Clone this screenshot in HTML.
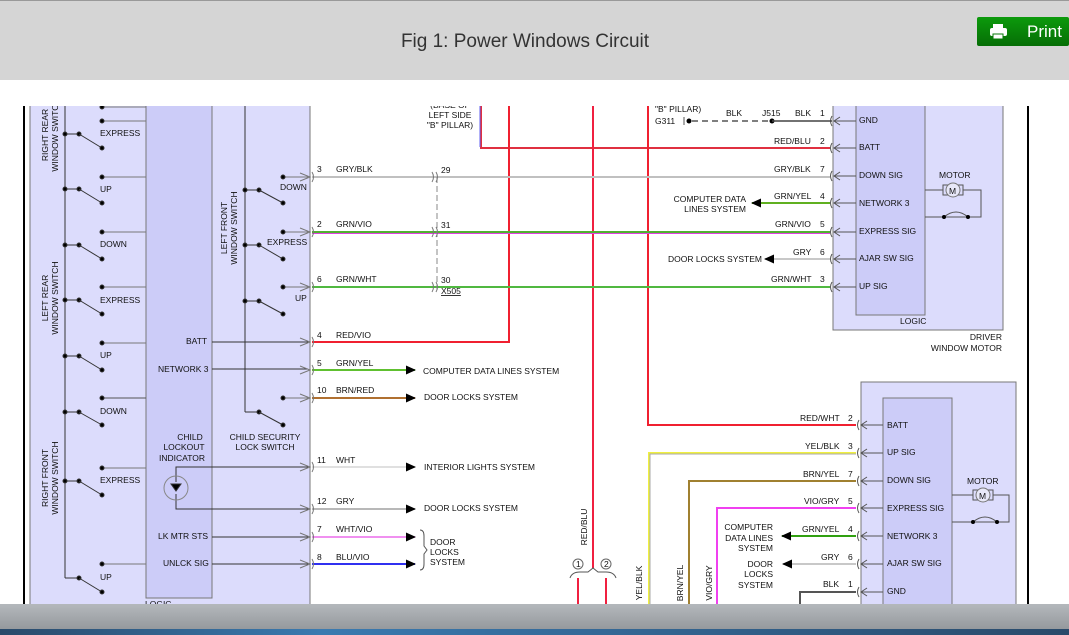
<!DOCTYPE html>
<html><head><meta charset="utf-8"><style>
html,body{margin:0;padding:0;width:1069px;height:635px;overflow:hidden;background:#fff;font-family:"Liberation Sans",sans-serif}
#hdr{position:absolute;left:0;top:0;width:1069px;height:80px;background:#d5d5d5;border-top:1px solid #999;box-sizing:border-box}
#title{position:absolute;left:0;width:1050px;top:30px;text-align:center;font-size:19px;color:#333}
#print{position:absolute;left:977px;top:16px;width:92px;height:29px;background:linear-gradient(#0c9a0c,#066e06);border-radius:2px;color:#fff;font-size:17px}
#task{position:absolute;left:0;top:604px;width:1069px;height:31px;background:linear-gradient(#b4b8bc,#8e9296)}
#task2{position:absolute;left:0;top:629px;width:1069px;height:6px;background:linear-gradient(90deg,#2a4a6a,#3a7ab0 30%,#2a4a6a)}
svg text{font-family:"Liberation Sans",sans-serif;font-size:8.5px;fill:#111}
</style></head><body>
<div id="hdr"><div id="title">Fig 1: Power Windows Circuit</div>
<div id="print"><svg width="30" height="29" style="position:absolute;left:10px;top:0"><rect x="6" y="7" width="10" height="5" fill="#fff"/><rect x="3" y="11" width="17" height="8" rx="2" fill="#fff"/><rect x="6" y="17" width="10" height="5" fill="#fff" stroke="#0a7a0a"/></svg><span style="position:absolute;left:50px;top:5px">Print</span></div></div>
<svg style="position:absolute;left:0;top:0" width="1069" height="635">
<defs><marker id="a" markerUnits="userSpaceOnUse" markerWidth="10" markerHeight="10" refX="9" refY="5" orient="auto"><path d="M0,0.5L10,5L0,9.5z" fill="#000"/></marker>
<clipPath id="c"><rect x="0" y="106" width="1069" height="500"/></clipPath></defs>
<g clip-path="url(#c)">
<line x1="24" y1="106" x2="24" y2="605" stroke="#000" stroke-width="2"/>
<line x1="1028" y1="106" x2="1028" y2="605" stroke="#000" stroke-width="2"/>
<rect x="30" y="100" width="280" height="510" fill="#dcdcfc" stroke="#777"/>
<rect x="146" y="100" width="66" height="498" fill="#ccccf8" stroke="#777"/>
<text x="145" y="607">LOGIC</text>
<g stroke="#333" fill="none">
<line x1="65" y1="106" x2="65" y2="578"/><line x1="65" y1="578" x2="79" y2="578"/>
<line x1="245" y1="106" x2="245" y2="412"/>
</g>
<g stroke="#333" fill="#000">
<line x1="102" y1="107" x2="146" y2="107" stroke="#777"/><circle cx="102" cy="107" r="2"/>
<line x1="102" y1="121" x2="146" y2="121" stroke="#777"/><circle cx="102" cy="121" r="2"/>
<line x1="65" y1="134" x2="79" y2="134"/><circle cx="65" cy="134" r="2"/><circle cx="79" cy="134" r="2"/><line x1="79" y1="134" x2="102" y2="148"/><circle cx="102" cy="148" r="2"/>
<line x1="102" y1="177" x2="146" y2="177" stroke="#777"/><circle cx="102" cy="177" r="2"/>
<line x1="65" y1="189" x2="79" y2="189"/><circle cx="65" cy="189" r="2"/><circle cx="79" cy="189" r="2"/><line x1="79" y1="189" x2="102" y2="203"/><circle cx="102" cy="203" r="2"/>
<line x1="102" y1="232" x2="146" y2="232" stroke="#777"/><circle cx="102" cy="232" r="2"/>
<line x1="65" y1="245" x2="79" y2="245"/><circle cx="65" cy="245" r="2"/><circle cx="79" cy="245" r="2"/><line x1="79" y1="245" x2="102" y2="259"/><circle cx="102" cy="259" r="2"/>
<line x1="102" y1="287" x2="146" y2="287" stroke="#777"/><circle cx="102" cy="287" r="2"/>
<line x1="65" y1="300" x2="79" y2="300"/><circle cx="65" cy="300" r="2"/><circle cx="79" cy="300" r="2"/><line x1="79" y1="300" x2="102" y2="314"/><circle cx="102" cy="314" r="2"/>
<line x1="102" y1="343" x2="146" y2="343" stroke="#777"/><circle cx="102" cy="343" r="2"/>
<line x1="65" y1="356" x2="79" y2="356"/><circle cx="65" cy="356" r="2"/><circle cx="79" cy="356" r="2"/><line x1="79" y1="356" x2="102" y2="370"/><circle cx="102" cy="370" r="2"/>
<line x1="102" y1="398" x2="146" y2="398" stroke="#555"/><circle cx="102" cy="398" r="2"/>
<line x1="65" y1="412" x2="79" y2="412"/><circle cx="65" cy="412" r="2"/><circle cx="79" cy="412" r="2"/><line x1="79" y1="412" x2="102" y2="425"/><circle cx="102" cy="425" r="2"/>
<line x1="102" y1="468" x2="146" y2="468" stroke="#777"/><circle cx="102" cy="468" r="2"/>
<line x1="65" y1="481" x2="79" y2="481"/><circle cx="65" cy="481" r="2"/><circle cx="79" cy="481" r="2"/><line x1="79" y1="481" x2="102" y2="495"/><circle cx="102" cy="495" r="2"/>
<line x1="102" y1="564" x2="146" y2="564" stroke="#777"/><circle cx="102" cy="564" r="2"/>
<circle cx="79" cy="578" r="2"/><line x1="79" y1="578" x2="102" y2="592"/><circle cx="102" cy="592" r="2"/>
<line x1="283" y1="177" x2="308" y2="177" stroke="#777"/><circle cx="283" cy="177" r="2"/>
<line x1="245" y1="190" x2="259" y2="190"/><circle cx="245" cy="190" r="2"/><circle cx="259" cy="190" r="2"/><line x1="259" y1="190" x2="283" y2="203"/><circle cx="283" cy="203" r="2"/>
<line x1="283" y1="232" x2="308" y2="232" stroke="#777"/><circle cx="283" cy="232" r="2"/>
<line x1="245" y1="245" x2="259" y2="245"/><circle cx="245" cy="245" r="2"/><circle cx="259" cy="245" r="2"/><line x1="259" y1="245" x2="283" y2="259"/><circle cx="283" cy="259" r="2"/>
<line x1="283" y1="287" x2="308" y2="287" stroke="#777"/><circle cx="283" cy="287" r="2"/>
<line x1="245" y1="301" x2="259" y2="301"/><circle cx="245" cy="301" r="2"/><circle cx="259" cy="301" r="2"/><line x1="259" y1="301" x2="283" y2="314"/><circle cx="283" cy="314" r="2"/>
<line x1="283" y1="398" x2="308" y2="398" stroke="#777"/><circle cx="283" cy="398" r="2"/>
<line x1="245" y1="412" x2="259" y2="412"/><circle cx="259" cy="412" r="2"/><line x1="259" y1="412" x2="283" y2="425"/><circle cx="283" cy="425" r="2"/>
<line x1="212" y1="342" x2="308" y2="342"/><line x1="212" y1="369" x2="308" y2="369"/>
<line x1="212" y1="537" x2="308" y2="537"/><line x1="212" y1="564" x2="308" y2="564"/>
<polyline points="176,482 176,467 308,467" fill="none"/><polyline points="176,494 176,509 308,509" fill="none"/>
<circle cx="176" cy="488" r="12" fill="none" stroke="#888"/><path d="M171,484h10l-5,7z"/>
</g>
<g>
<text x="100" y="136">EXPRESS</text><text x="100" y="192">UP</text><text x="100" y="247">DOWN</text><text x="100" y="303">EXPRESS</text><text x="100" y="358">UP</text><text x="100" y="414">DOWN</text><text x="100" y="483">EXPRESS</text><text x="100" y="580">UP</text>
<text x="280" y="190">DOWN</text><text x="267" y="245">EXPRESS</text><text x="295" y="301">UP</text>
<text x="186" y="344">BATT</text><text x="158" y="372">NETWORK 3</text>
<text x="190" y="440" text-anchor="middle">CHILD</text><text x="184" y="450" text-anchor="middle">LOCKOUT</text><text x="182" y="461" text-anchor="middle">INDICATOR</text>
<text x="265" y="440" text-anchor="middle">CHILD SECURITY</text><text x="265" y="450" text-anchor="middle">LOCK SWITCH</text>
<text x="158" y="539">LK MTR STS</text><text x="163" y="566">UNLCK SIG</text>
<text transform="translate(48,135) rotate(-90)" text-anchor="middle">RIGHT REAR</text><text transform="translate(58,135) rotate(-90)" text-anchor="middle">WINDOW SWITCH</text>
<text transform="translate(48,298) rotate(-90)" text-anchor="middle">LEFT REAR</text><text transform="translate(58,298) rotate(-90)" text-anchor="middle">WINDOW SWITCH</text>
<text transform="translate(48,478) rotate(-90)" text-anchor="middle">RIGHT FRONT</text><text transform="translate(58,478) rotate(-90)" text-anchor="middle">WINDOW SWITCH</text>
<text transform="translate(227,228) rotate(-90)" text-anchor="middle">LEFT FRONT</text><text transform="translate(237,228) rotate(-90)" text-anchor="middle">WINDOW SWITCH</text>
</g>
<g fill="none" stroke-width="2">
<polyline points="481,106 481,148 830,148" stroke="#e03040"/><line x1="480" y1="106" x2="480" y2="147" stroke="#6060f0" stroke-width="1"/>
<polyline points="312,342 509,342 509,106" stroke="#f02030"/>
<line x1="593" y1="106" x2="593" y2="568" stroke="#f02040"/>
<polyline points="648,106 648,425 856,425" stroke="#f02030"/>
<line x1="312" y1="177" x2="830" y2="177" stroke="#c0c0c0"/>
<line x1="312" y1="232" x2="830" y2="232" stroke="#50b030"/><line x1="312" y1="233.5" x2="830" y2="233.5" stroke="#e040e0" stroke-width="1"/>
<line x1="312" y1="287" x2="830" y2="287" stroke="#50b840"/>
<line x1="312" y1="370" x2="415" y2="370" stroke="#60c030" marker-end="url(#a)"/>
<line x1="312" y1="398" x2="415" y2="398" stroke="#b07030" marker-end="url(#a)"/>
<line x1="312" y1="467" x2="415" y2="467" stroke="#e0e0e0" marker-end="url(#a)"/>
<line x1="312" y1="509" x2="415" y2="509" stroke="#b8b8b8" marker-end="url(#a)"/>
<line x1="312" y1="537" x2="415" y2="537" stroke="#f090f0" marker-end="url(#a)"/>
<line x1="312" y1="564" x2="415" y2="564" stroke="#3030f0" marker-end="url(#a)"/>
<line x1="830" y1="203" x2="752" y2="203" stroke="#60b020" marker-end="url(#a)"/>
<line x1="830" y1="259" x2="765" y2="259" stroke="#c8c8c8" marker-end="url(#a)"/>
<line x1="578" y1="578" x2="578" y2="605" stroke="#f02040"/><line x1="606" y1="578" x2="606" y2="605" stroke="#f02040"/>
<polyline points="649,605 649,453 856,453" stroke="#f0f040"/><polyline points="650,605 650,454 856,454" stroke="#aaa" stroke-width="1"/>
<polyline points="689,605 689,481 856,481" stroke="#a08030"/>
<polyline points="717,605 717,508 856,508" stroke="#f040f0"/>
<line x1="856" y1="536" x2="782" y2="536" stroke="#30a010" marker-end="url(#a)"/>
<line x1="856" y1="564" x2="783" y2="564" stroke="#c8c8c8" marker-end="url(#a)"/>
<polyline points="800,605 800,592 856,592" stroke="#555"/>
</g>
<line x1="437" y1="177" x2="437" y2="290" stroke="#888" stroke-dasharray="6,3"/>
<path d="M420,530q4,0 4,6v10l3,4l-3,4v10q0,6-4,6" fill="none" stroke="#555"/>
<path d="M570,578q2,-6 10,-6h8l5,-4l5,4h8q8,0 10,6" fill="none" stroke="#555"/>
<circle cx="578" cy="564" r="5" fill="#fff" stroke="#666"/><circle cx="606" cy="564" r="5" fill="#fff" stroke="#666"/>
<text x="576" y="567" font-size="7">1</text><text x="604" y="567" font-size="7">2</text>
<g fill="none" stroke="#777">
<path d="M300,173l10,4l-10,4M312,172q3,5 0,10"/><path d="M300,228l10,4l-10,4M312,227q3,5 0,10"/><path d="M300,283l10,4l-10,4M312,282q3,5 0,10"/>
<path d="M300,338l10,4l-10,4M312,337q3,5 0,10"/><path d="M300,366l10,4l-10,4M312,365q3,5 0,10"/><path d="M300,394l10,4l-10,4M312,393q3,5 0,10"/>
<path d="M300,463l10,4l-10,4M312,462q3,5 0,10"/><path d="M300,505l10,4l-10,4M312,504q3,5 0,10"/><path d="M300,533l10,4l-10,4M312,532q3,5 0,10"/><path d="M300,560l10,4l-10,4M312,559q3,5 0,10"/>
<path d="M432,172q3,5 0,10M436,172q3,5 0,10M432,227q3,5 0,10M436,227q3,5 0,10M432,282q3,5 0,10M436,282q3,5 0,10"/>
</g>
<rect x="833" y="100" width="170" height="230" fill="#dcdcfc" stroke="#777"/>
<rect x="856" y="100" width="69" height="215" fill="#ccccf8" stroke="#777"/>
<rect x="861" y="382" width="155" height="230" fill="#dcdcfc" stroke="#777"/>
<rect x="883" y="398" width="69" height="214" fill="#ccccf8" stroke="#777"/>
<g fill="none" stroke="#555">
<path d="M832,116q-3,5 0,10M840,117l-6,4l6,4M834,121h22"/>
<path d="M832,143q-3,5 0,10M840,144l-6,4l6,4M834,148h22"/>
<path d="M832,171q-3,5 0,10M840,172l-6,4l6,4M834,176h22"/>
<path d="M832,198q-3,5 0,10M840,199l-6,4l6,4M834,203h22"/>
<path d="M832,227q-3,5 0,10M840,228l-6,4l6,4M834,232h22"/>
<path d="M832,254q-3,5 0,10M840,255l-6,4l6,4M834,259h22"/>
<path d="M832,282q-3,5 0,10M840,283l-6,4l6,4M834,287h22"/>
<path d="M859,420q-3,5 0,10M867,421l-6,4l6,4M861,425h22"/>
<path d="M859,448q-3,5 0,10M867,449l-6,4l6,4M861,453h22"/>
<path d="M859,476q-3,5 0,10M867,477l-6,4l6,4M861,481h22"/>
<path d="M859,503q-3,5 0,10M867,504l-6,4l6,4M861,508h22"/>
<path d="M859,531q-3,5 0,10M867,532l-6,4l6,4M861,536h22"/>
<path d="M859,559q-3,5 0,10M867,560l-6,4l6,4M861,564h22"/>
<path d="M859,587q-3,5 0,10M867,588l-6,4l6,4M861,592h22"/>
<path d="M925,190h18M963,190h18v27h-56"/><path d="M944,217q12,-10 24,0"/>
<path d="M952,495h21M993,495h16v27h-57"/><path d="M973,522q12,-10 24,0"/>
</g>
<g fill="#000"><circle cx="944" cy="217" r="2"/><circle cx="968" cy="217" r="2"/><circle cx="973" cy="522" r="2"/><circle cx="997" cy="522" r="2"/><circle cx="772" cy="121" r="2.5"/><circle cx="689" cy="121" r="2.5"/></g>
<rect x="943" y="185" width="20" height="10" fill="none" stroke="#555"/><circle cx="953" cy="190" r="7" fill="#e8e8f8" stroke="#777"/><text x="949" y="194" font-size="10">M</text>
<rect x="973" y="490" width="20" height="10" fill="none" stroke="#555"/><circle cx="983" cy="495" r="7" fill="#e8e8f8" stroke="#777"/><text x="979" y="499" font-size="10">M</text>
<line x1="692" y1="121" x2="770" y2="121" stroke="#555" stroke-width="1.5" stroke-dasharray="6,4"/><line x1="772" y1="121" x2="832" y2="121" stroke="#444" stroke-width="1.5"/><line x1="684" y1="117" x2="684" y2="125" stroke="#555"/>
<g>
<text x="317" y="172" font-size="8">3</text><text x="336" y="172">GRY/BLK</text>
<text x="317" y="227" font-size="8">2</text><text x="336" y="227">GRN/VIO</text>
<text x="317" y="282" font-size="8">6</text><text x="336" y="282">GRN/WHT</text>
<text x="317" y="338" font-size="8">4</text><text x="336" y="338">RED/VIO</text>
<text x="317" y="366" font-size="8">5</text><text x="336" y="366">GRN/YEL</text>
<text x="317" y="393" font-size="8">10</text><text x="336" y="393">BRN/RED</text>
<text x="317" y="463" font-size="8">11</text><text x="336" y="463">WHT</text>
<text x="317" y="504" font-size="8">12</text><text x="336" y="504">GRY</text>
<text x="317" y="532" font-size="8">7</text><text x="336" y="532">WHT/VIO</text>
<text x="317" y="560" font-size="8">8</text><text x="336" y="560">BLU/VIO</text>
<text x="423" y="374">COMPUTER DATA LINES SYSTEM</text><text x="424" y="400">DOOR LOCKS SYSTEM</text><text x="424" y="470">INTERIOR LIGHTS SYSTEM</text><text x="424" y="511">DOOR LOCKS SYSTEM</text>
<text x="430" y="545">DOOR</text><text x="430" y="555">LOCKS</text><text x="430" y="565">SYSTEM</text>
<text x="441" y="173" font-size="8">29</text><text x="441" y="228" font-size="8">31</text><text x="441" y="283" font-size="8">30</text><text x="441" y="294" font-size="8" text-decoration="underline">X505</text>
<text x="450" y="108" text-anchor="middle">(BASE OF</text><text x="450" y="118" text-anchor="middle">LEFT SIDE</text><text x="450" y="128" text-anchor="middle">"B" PILLAR)</text>
<text x="655" y="112">"B" PILLAR)</text><text x="655" y="124">G311</text>
<text x="726" y="116">BLK</text><text x="762" y="116">J515</text><text x="795" y="116">BLK</text><text x="820" y="116">1</text>
<text x="774" y="144">RED/BLU</text><text x="820" y="144">2</text>
<text x="774" y="172">GRY/BLK</text><text x="820" y="172">7</text>
<text x="774" y="199">GRN/YEL</text><text x="820" y="199">4</text>
<text x="775" y="227">GRN/VIO</text><text x="820" y="227">5</text>
<text x="793" y="255">GRY</text><text x="820" y="255">6</text>
<text x="771" y="282">GRN/WHT</text><text x="820" y="282">3</text>
<text x="746" y="202" text-anchor="end">COMPUTER DATA</text><text x="746" y="212" text-anchor="end">LINES SYSTEM</text>
<text x="762" y="262" text-anchor="end">DOOR LOCKS SYSTEM</text>
<text x="859" y="123">GND</text><text x="859" y="150">BATT</text><text x="859" y="178">DOWN SIG</text><text x="859" y="206">NETWORK 3</text><text x="859" y="234">EXPRESS SIG</text><text x="859" y="261">AJAR SW SIG</text><text x="859" y="289">UP SIG</text>
<text x="900" y="324">LOGIC</text><text x="939" y="178">MOTOR</text>
<text x="1002" y="340" text-anchor="end">DRIVER</text><text x="1002" y="351" text-anchor="end">WINDOW MOTOR</text>
<text x="800" y="421">RED/WHT</text><text x="848" y="421">2</text>
<text x="805" y="449">YEL/BLK</text><text x="848" y="449">3</text>
<text x="803" y="477">BRN/YEL</text><text x="848" y="477">7</text>
<text x="804" y="504">VIO/GRY</text><text x="848" y="504">5</text>
<text x="802" y="532">GRN/YEL</text><text x="848" y="532">4</text>
<text x="821" y="560">GRY</text><text x="848" y="560">6</text>
<text x="823" y="587">BLK</text><text x="848" y="587">1</text>
<text x="887" y="428">BATT</text><text x="887" y="455">UP SIG</text><text x="887" y="483">DOWN SIG</text><text x="887" y="511">EXPRESS SIG</text><text x="887" y="539">NETWORK 3</text><text x="887" y="566">AJAR SW SIG</text><text x="887" y="594">GND</text>
<text x="967" y="484">MOTOR</text>
<text x="773" y="530" text-anchor="end">COMPUTER</text><text x="773" y="541" text-anchor="end">DATA LINES</text><text x="773" y="551" text-anchor="end">SYSTEM</text>
<text x="773" y="567" text-anchor="end">DOOR</text><text x="773" y="577" text-anchor="end">LOCKS</text><text x="773" y="588" text-anchor="end">SYSTEM</text>
<text transform="translate(587,527) rotate(-90)" text-anchor="middle">RED/BLU</text>
<text transform="translate(642,583) rotate(-90)" text-anchor="middle">YEL/BLK</text>
<text transform="translate(683,583) rotate(-90)" text-anchor="middle">BRN/YEL</text>
<text transform="translate(712,583) rotate(-90)" text-anchor="middle">VIO/GRY</text>
</g>
</g>
</svg>
<div id="task"></div><div id="task2"></div>
</body></html>
